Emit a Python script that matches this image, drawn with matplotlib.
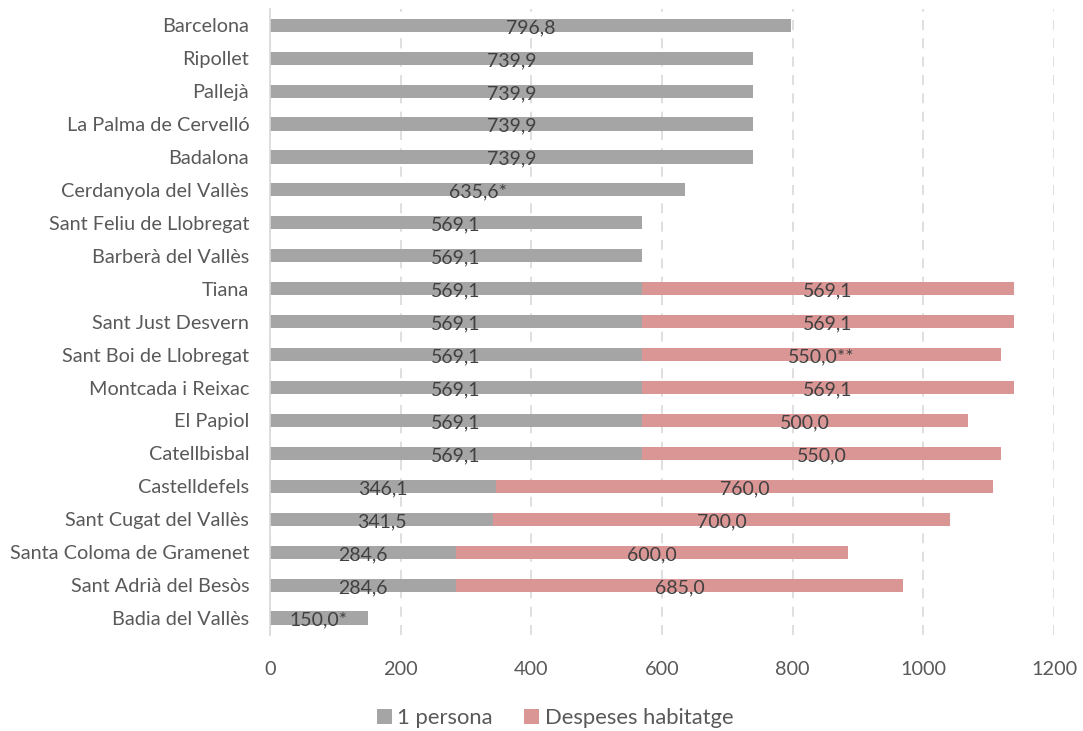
import matplotlib.pyplot as plt
import numpy as np

plt.rcParams["font.family"] = ["Lato", "DejaVu Sans"]

municipis = [
    "Barcelona", "Ripollet", "Pallejà", "La Palma de Cervelló", "Badalona",
    "Cerdanyola del Vallès", "Sant Feliu de Llobregat", "Barberà del Vallès",
    "Tiana", "Sant Just Desvern", "Sant Boi de Llobregat", "Montcada i Reixac",
    "El Papiol", "Catellbisbal", "Castelldefels", "Sant Cugat del Vallès",
    "Santa Coloma de Gramenet", "Sant Adrià del Besòs", "Badia del Vallès",
]
una_persona = [796.8, 739.9, 739.9, 739.9, 739.9, 635.6, 569.1, 569.1,
               569.1, 569.1, 569.1, 569.1, 569.1, 569.1, 346.1, 341.5,
               284.6, 284.6, 150.0]
despeses = [0, 0, 0, 0, 0, 0, 0, 0,
            569.1, 569.1, 550.0, 569.1, 500.0, 550.0, 760.0, 700.0,
            600.0, 685.0, 0]
nota_persona = ["", "", "", "", "", "*", "", "", "", "", "", "", "", "", "",
                "", "", "", "*"]
nota_despeses = ["", "", "", "", "", "", "", "", "", "", "**", "", "", "",
                 "", "", "", "", ""]

GRIS = "#a5a5a5"
ROSA = "#da9694"
TEXT = "#595959"


def fmt(value, nota):
    return f"{value:.1f}".replace(".", ",") + nota


fig = plt.figure(figsize=(10.83, 7.31), dpi=100)
ax = fig.add_axes([0.2493, 0.132, 0.7239, 0.856])

y = np.arange(len(municipis))
p = np.array(una_persona)
d = np.array(despeses)
ax.barh(y, p, height=0.4, color=GRIS, zorder=2, label="1 persona")
ax.barh(y, d, left=p, height=0.4, color=ROSA, zorder=2,
        label="Despeses habitatge")

for i in range(len(municipis)):
    ax.text(p[i] / 2, y[i] + 0.07, fmt(p[i], nota_persona[i]),
            ha="center", va="center", fontsize=14, color="#404040", zorder=3)
    if d[i] > 0:
        ax.text(p[i] + d[i] / 2, y[i] + 0.07, fmt(d[i], nota_despeses[i]),
                ha="center", va="center", fontsize=14, color="#404040",
                zorder=3)

ax.set_xlim(0, 1200)
ax.set_ylim(len(municipis) - 0.5, -0.5)
ax.set_yticks(y, labels=municipis)
ax.set_xticks(range(0, 1201, 200))
ax.tick_params(axis="both", length=0, colors=TEXT, labelsize=14.3)
ax.tick_params(axis="x", pad=19)
ax.tick_params(axis="y", pad=15)
ax.xaxis.grid(True, color="#d9d9d9", linestyle=(0, (6, 5)), linewidth=1.2,
              zorder=0)
for side in ("top", "right", "bottom"):
    ax.spines[side].set_visible(False)
ax.spines["left"].set_color("#d9d9d9")
ax.spines["left"].set_linewidth(1.2)

fig.legend(loc="center", bbox_to_anchor=(0.5125, 0.018), ncol=2,
           frameon=False, fontsize=15.8, labelcolor=TEXT, handlelength=0.68,
           handleheight=0.68, handletextpad=0.25, columnspacing=1.45,
           borderpad=0)

fig.savefig("out.png", dpi=100)
